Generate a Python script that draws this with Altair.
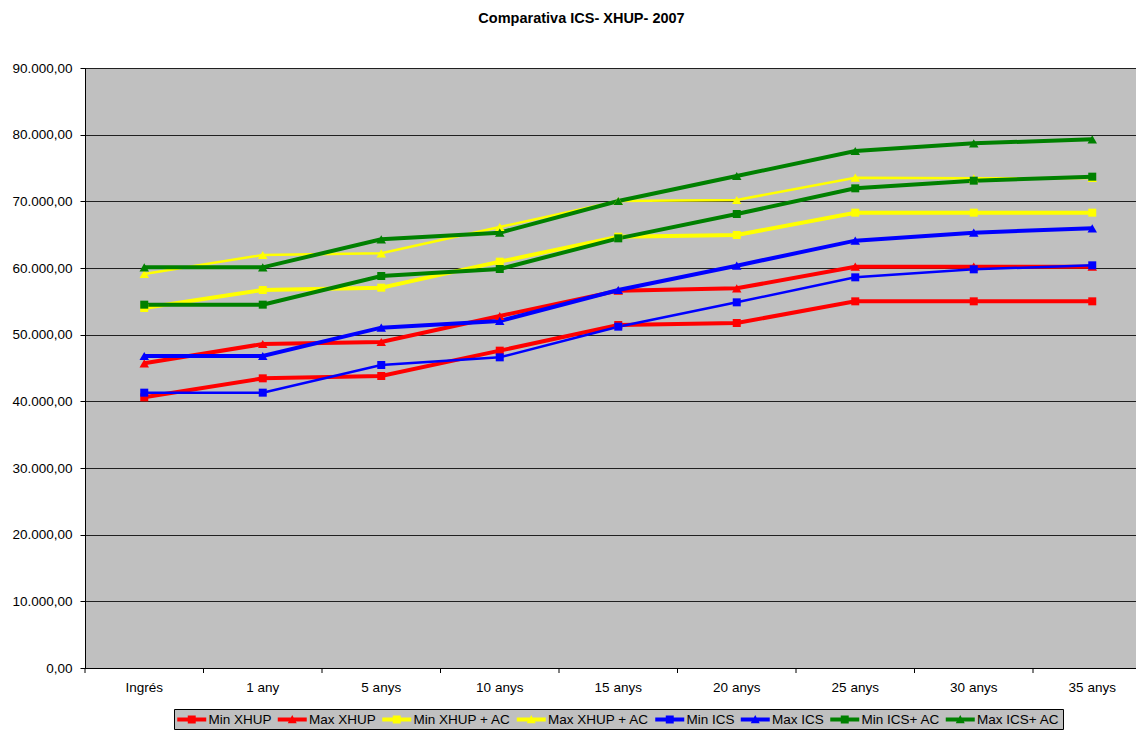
import altair as alt
import pandas as pd

categories = ["Ingrés", "1 any", "5 anys", "10 anys", "15 anys", "20 anys", "25 anys", "30 anys", "35 anys"]

series_names = ["Min XHUP", "Max XHUP", "Min XHUP + AC", "Max XHUP + AC",
                "Min ICS", "Max ICS", "Min ICS+ AC", "Max ICS+ AC"]
series_colors = ["#FF0000", "#FF0000", "#FFFF00", "#FFFF00",
                 "#0000FF", "#0000FF", "#008000", "#008000"]
series_widths = [4, 4, 4, 2.5, 2.5, 4, 4, 4]
series_markers = ["square", "triangle-up"] * 4
series_marker_sizes = [64, 90] * 4

min_xhup = [40600, 43450, 43800, 47600, 51450, 51750, 55000, 55000, 55000]
max_xhup = [45700, 48600, 48900, 52800, 56600, 56950, 60200, 60200, 60200]
min_xhup_ac = [54000, 56700, 57050, 60950, 64700, 64950, 68300, 68300, 68300]
max_xhup_ac = [59100, 61950, 62200, 66150, 70050, 70200, 73550, 73450, 73500]
min_ics = [41300, 41300, 45450, 46600, 51200, 54850, 58600, 59800, 60400]
max_ics = [46800, 46800, 51050, 52050, 56700, 60350, 64100, 65300, 65950]
min_ics_ac = [54500, 54500, 58800, 59850, 64450, 68100, 71950, 73100, 73700]
max_ics_ac = [60100, 60100, 64300, 65300, 70050, 73800, 77550, 78700, 79300]

all_values = [min_xhup, max_xhup, min_xhup_ac, max_xhup_ac,
              min_ics, max_ics, min_ics_ac, max_ics_ac]

rows = []
for i, (name, vals) in enumerate(zip(series_names, all_values)):
    for c, v in zip(categories, vals):
        rows.append({"category": c, "series": name, "value": v,
                     "lw": series_widths[i], "marker": series_markers[i],
                     "ms": series_marker_sizes[i]})
df = pd.DataFrame(rows)
cat_df = pd.DataFrame({"category": categories})
leg_df = pd.DataFrame({"series": series_names})

FONT = "Liberation Sans"
FS = 13.5

# legend symbols: line with a marker in the middle; drawn wider than the
# layout box (unit = sqrt(symbolSize)/2 px), shifted right to start at item left
sq_path = "M-1,-0.28H3V0.28H-1Z M0.45,-0.55H1.55V0.55H0.45Z"
tri_path = "M-1,-0.28H3V0.28H-1Z M1,-0.62L1.62,0.5H0.38Z"
legend_paths = [sq_path, tri_path] * 4

label_expr = ("replace(replace(replace(format(datum.value, ',.2f'), ',', '#'), '.', ','), '#', '.')")

x_scale = alt.Scale(type="band", paddingInner=0, paddingOuter=0, range=[0, 1066.5])
x_enc = alt.X("category:N", sort=categories, scale=x_scale,
              axis=alt.Axis(title=None, ticks=False, labelPadding=12, labelAngle=0,
                            grid=False, domainColor="black", labelColor="black",
                            labelFont=FONT, labelFontSize=FS))
y_enc = alt.Y("value:Q", scale=alt.Scale(domain=[0, 90000], nice=False),
              axis=alt.Axis(title=None, values=list(range(0, 90001, 10000)),
                            labelExpr=label_expr, tickSize=5, labelPadding=8,
                            tickColor="black", domainColor="black", gridColor="#202020",
                            gridWidth=1, labelColor="black", labelFont=FONT,
                            labelFontSize=FS))

color_scale = alt.Scale(domain=series_names, range=series_colors)

lines = alt.Chart(df).mark_line().encode(
    x=x_enc, y=y_enc,
    color=alt.Color("series:N", scale=color_scale, legend=None),
    strokeWidth=alt.StrokeWidth("lw:Q", scale=None, legend=None),
)

points = alt.Chart(df).mark_point(filled=True, opacity=1).encode(
    x=x_enc, y=y_enc,
    color=alt.Color("series:N", scale=color_scale, legend=None),
    shape=alt.Shape("marker:N", scale=None, legend=None),
    size=alt.Size("ms:Q", scale=None, legend=None),
)

xticks = alt.Chart(cat_df).mark_rule(color="black", strokeWidth=1).encode(
    x=alt.X("category:N", sort=categories, bandPosition=0),
    y=alt.value(600), y2=alt.value(605),
)

leg_props = dict(title=None, orient="none", legendX=89, legendY=641,
                 direction="horizontal", columns=8, symbolSize=210.25,
                 symbolStrokeWidth=0, symbolOpacity=1, labelFont=FONT,
                 labelFontSize=FS, labelColor="black", labelOffset=16.5,
                 columnPadding=5.5, padding=3, strokeColor="black",
                 fillColor="#C0C0C0", labelLimit=0)

legend_layer = alt.Chart(leg_df).mark_point(filled=True, opacity=0).encode(
    x=alt.value(0), y=alt.value(0),
    color=alt.Color("series:N", scale=alt.Scale(domain=series_names, range=series_colors),
                    sort=series_names, legend=alt.Legend(**leg_props)),
    shape=alt.Shape("series:N", scale=alt.Scale(domain=series_names, range=legend_paths),
                    sort=series_names, legend=alt.Legend(**leg_props)),
)

chart = alt.layer(lines, points, xticks, legend_layer).resolve_scale(
    color="independent", shape="independent"
).properties(
    width=1051, height=600,
    autosize=alt.AutoSizeParams(type="none"),
    padding={"left": 77, "top": 60, "right": 0, "bottom": 63},
    title=alt.TitleParams("Comparativa ICS- XHUP- 2007", font=FONT, fontSize=14.5,
                          fontWeight="bold", color="black", anchor="middle",
                          offset=35, dx=-29),
    background="white",
).configure_view(fill="#C0C0C0", stroke="black", strokeWidth=1)

chart.save("out.html", embed_options={"renderer": "svg", "actions": False})
